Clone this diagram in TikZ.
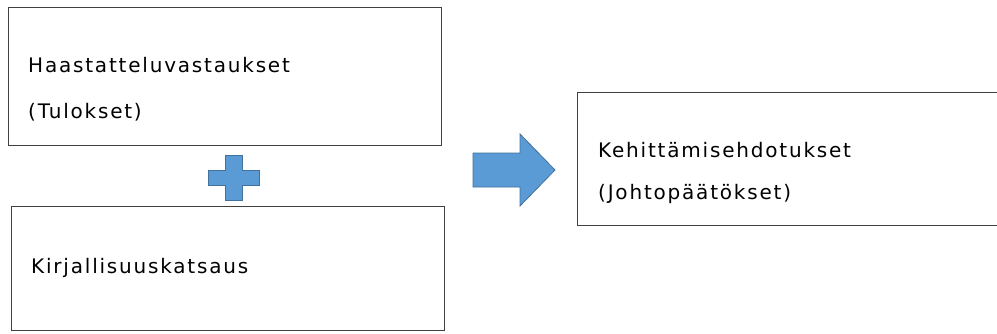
\documentclass[tikz,border=0pt]{standalone}
\usepackage{fontspec}
\setmainfont{DejaVu Sans}[LetterSpace=9]
\definecolor{plusblue}{HTML}{5B9BD5}
\definecolor{plusedge}{HTML}{41719C}
\tikzset{
  box/.style={draw=black!75, line width=1.1pt, fill=white, anchor=north west, inner sep=0pt},
  txt/.style={anchor=base west, inner sep=0pt, font=\fontsize{20}{24}\selectfont},
  blueshape/.style={fill=plusblue, draw=plusedge, line width=0.8pt}
}
\begin{document}
\begin{tikzpicture}[x=1pt,y=-1pt]
	\useasboundingbox (0,0) rectangle (997,333);
	% boxes
	\node[box, minimum width=433pt, minimum height=138pt] (haast) at (8,7) {};
	\node[box, minimum width=433pt, minimum height=124pt] (kirj) at (11,206) {};
	\node[box, minimum width=440pt, minimum height=133pt] (keh) at (577,92) {};
	% texts
	\node[txt] (haastA) at (28,72) {Haastatteluvastaukset};
	\node[txt] (haastB) at (28,118) {(Tulokset)};
	\node[txt] (kirjA) at (31,273) {Kirjallisuuskatsaus};
	\node[txt] (kehA) at (598,157) {Kehittämisehdotukset};
	\node[txt] (kehB) at (598,199) {(Johtopäätökset)};
	% plus and arrow
	\draw[blueshape] (225,155) -- (242,155) -- (242,170) -- (259,170) -- (259,185)
		-- (242,185) -- (242,200) -- (225,200) -- (225,185) -- (208,185)
		-- (208,170) -- (225,170) -- cycle;
	\draw[blueshape] (473,153) -- (520,153) -- (520,134) -- (555,170) -- (520,206)
		-- (520,187) -- (473,187) -- cycle;
\end{tikzpicture}
\end{document}
